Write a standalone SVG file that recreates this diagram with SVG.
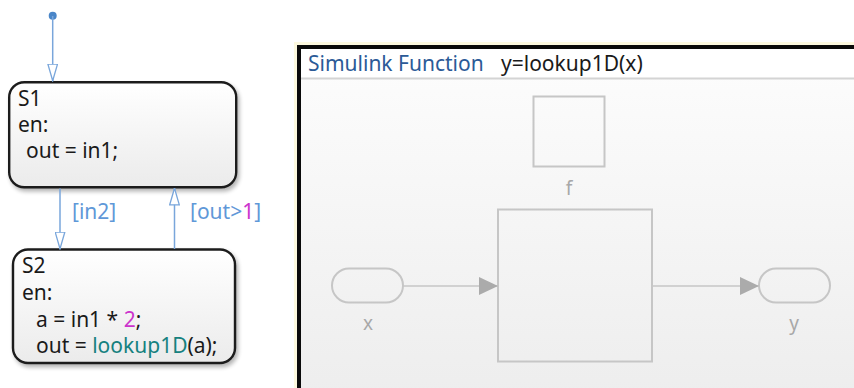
<svg xmlns="http://www.w3.org/2000/svg" width="854" height="388" viewBox="0 0 854 388">
  <style>
    .st { font-family: "Noto Sans", "Liberation Sans", sans-serif; font-size: 21px; fill: #1a1a1a; }
    .lbl { font-family: "Noto Sans", "Liberation Sans", sans-serif; font-size: 21px; fill: #5f98d8; }
    .num { fill: #cc33cc; }
    .fn { fill: #16817f; }
    .state { fill: url(#stateGrad); stroke: #1c1c1c; stroke-width: 2.4; filter: url(#shadow); }
    .tr { stroke: #79a6db; stroke-width: 1.5; fill: none; }
    .sl { fill: none; stroke: #c6c6c6; stroke-width: 2; }
    .sline { stroke: #c6c6c6; stroke-width: 1.5; fill: none; }
    .plbl { font-family: "Noto Sans", "Liberation Sans", sans-serif; font-size: 19px; fill: #a8a8a8; text-anchor: middle; }
  </style>
  <defs>
    <linearGradient id="stateGrad" x1="0" y1="0" x2="0" y2="1">
      <stop offset="0" stop-color="#ffffff"/>
      <stop offset="1" stop-color="#ebebeb"/>
    </linearGradient>
    <linearGradient id="panelGrad" x1="0" y1="0" x2="0" y2="1">
      <stop offset="0" stop-color="#fdfdfd"/>
      <stop offset="1" stop-color="#ebebeb"/>
    </linearGradient>
    <filter id="shadow" x="-10%" y="-10%" width="125%" height="130%">
      <feGaussianBlur in="SourceAlpha" stdDeviation="2"/>
      <feOffset dx="2" dy="3" result="b"/>
      <feComponentTransfer><feFuncA type="linear" slope="0.3"/></feComponentTransfer>
      <feMerge><feMergeNode/><feMergeNode in="SourceGraphic"/></feMerge>
    </filter>
    <marker id="open" viewBox="0 0 18 11" refX="17.5" refY="5.5" markerWidth="18" markerHeight="11" markerUnits="userSpaceOnUse" orient="auto">
      <path d="M0.7,0.7 L17.3,5.5 L0.7,10.3 Z" fill="#ffffff" stroke="#79a6db" stroke-width="1.3"/>
    </marker>
    <marker id="fill" viewBox="0 0 19 18" refX="19" refY="9" markerWidth="19" markerHeight="18" markerUnits="userSpaceOnUse" orient="auto">
      <path d="M0,0 L19,9 L0,18 Z" fill="#ababab"/>
    </marker>
  </defs>

  <rect width="854" height="388" fill="#ffffff"/>

  <!-- Simulink function panel -->
  <g id="panel">
    <rect x="299" y="47" width="600" height="400" fill="none" stroke="#fdf9df" stroke-width="10"/>
    <rect x="299" y="47" width="600" height="400" fill="url(#panelGrad)"/>
    <rect x="299" y="47" width="600" height="31" fill="#ffffff"/>
    <line x1="301" y1="78.5" x2="854" y2="78.5" stroke="#d4d4d4" stroke-width="2"/>
    <rect x="299" y="47" width="600" height="400" fill="none" stroke="#0a0a0a" stroke-width="4"/>
    <text x="308" y="71" font-family="Noto Sans, Liberation Sans, sans-serif" font-size="21" fill="#2b5a97">Simulink Function</text>
    <text x="501" y="71" font-family="Noto Sans, Liberation Sans, sans-serif" font-size="21" fill="#1a1a1a">y=lookup1D(x)</text>
  </g>

  <g id="block-f">
    <rect x="533.5" y="96.5" width="71" height="70" class="sl"/>
    <text x="569" y="195" class="plbl">f</text>
  </g>
  <g id="block-main">
    <rect x="498" y="209.5" width="154" height="152" class="sl"/>
  </g>
  <g id="port-x">
    <rect x="332" y="268.5" width="71" height="34" rx="17" class="sl"/>
    <text x="368" y="330" class="plbl">x</text>
  </g>
  <g id="port-y">
    <rect x="759" y="268.5" width="71" height="34" rx="17" class="sl"/>
    <text x="794" y="330" class="plbl">y</text>
  </g>

  <!-- States -->
  <g id="S1">
    <rect x="9.2" y="82.2" width="227" height="105" rx="15" class="state"/>
    <text x="18" y="106" class="st">S1</text>
    <text x="18" y="132" class="st">en:</text>
    <text x="26" y="158" class="st">out = in1;</text>
  </g>
  <g id="S2">
    <rect x="13" y="249.5" width="222" height="113.5" rx="15" class="state"/>
    <text x="22" y="273" class="st">S2</text>
    <text x="22" y="300" class="st">en:</text>
    <text x="36" y="327" class="st">a = in1 * <tspan class="num">2</tspan>;</text>
    <text x="36" y="353" class="st">out = <tspan class="fn">lookup1D</tspan>(a);</text>
  </g>

  <!-- Connectors -->
  <g id="connectors">
    <circle cx="52.7" cy="15.7" r="4" fill="#4a86c8"/>
    <path d="M52.7,16 L52.7,81" class="tr" marker-end="url(#open)"/>
    <path d="M60,188.5 L60,249" class="tr" marker-end="url(#open)"/>
    <path d="M174.5,249 L174.5,188" class="tr" marker-end="url(#open)"/>
    <text x="72" y="219" class="lbl">[in2]</text>
    <text x="190" y="219" class="lbl">[out&gt;<tspan class="num">1</tspan>]</text>
    <path d="M403,286 L498,286" class="sline" marker-end="url(#fill)"/>
    <path d="M652,286 L759,286" class="sline" marker-end="url(#fill)"/>
  </g>
</svg>
